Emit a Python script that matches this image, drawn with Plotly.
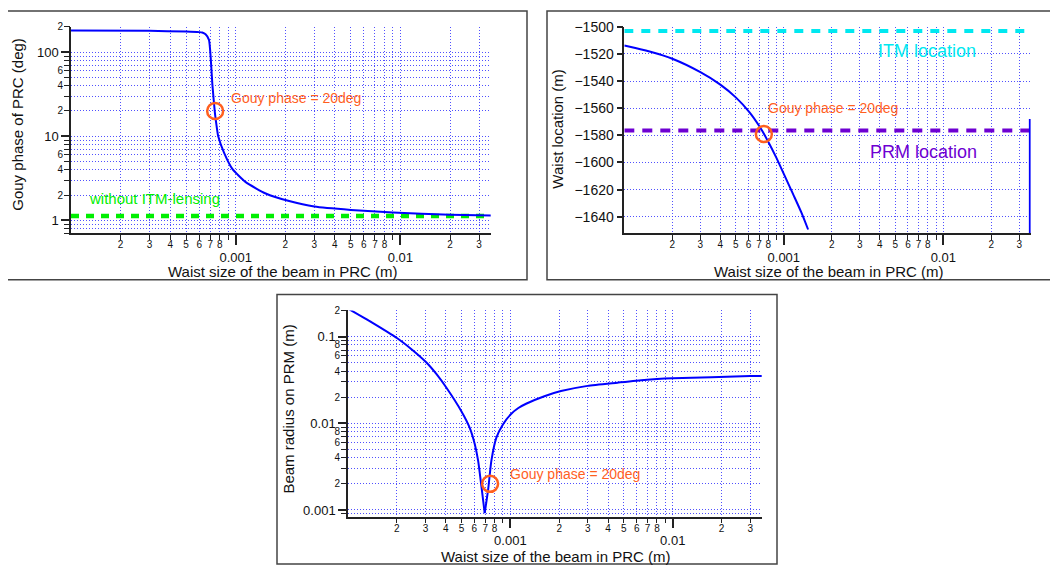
import plotly.graph_objects as go
import math

# ---------------- data ----------------
# Panel 1: Gouy phase of PRC vs waist size
waist_gouy = [1.0e-4, 3.0e-4, 5.0e-4, 6.0e-4, 6.26e-4, 6.56e-4, 6.88e-4, 7.05e-4, 7.21e-4,
              7.48e-4, 7.66e-4, 7.83e-4, 8.49e-4, 9.54e-4, 1.15e-3, 1.52e-3, 2.11e-3,
              3.0e-3, 5.0e-3, 9.0e-3, 2.0e-2, 3.55e-2]
gouy_phase = [181, 179, 176, 173, 171, 163, 140, 86, 42,
              18.7, 13.1, 10.0, 6.4, 4.1, 2.85, 2.09, 1.70,
              1.46, 1.33, 1.24, 1.17, 1.14]
gouy_no_lensing = 1.125

# Panel 2: waist location vs waist size
waist_loc_x = [1.0e-4, 1.44e-4, 2.0e-4, 3.0e-4, 4.0e-4, 5.0e-4, 6.1e-4, 7.05e-4, 7.94e-4,
               8.96e-4, 1.01e-3, 1.14e-3, 1.29e-3, 1.42e-3]
waist_loc = [-1513.8, -1518.2, -1523.5, -1533.4, -1542.6, -1552.0, -1563.0, -1573.5, -1584.1,
             -1596.2, -1609.5, -1623.0, -1637.0, -1649.4]
waist_loc_edge_x = [0.0349, 0.0349]
waist_loc_edge_y = [-1568.0, -1652.3]
itm_location = -1503.1
prm_location = -1576.5

# Panel 3: beam radius on PRM vs waist size
waist_r = [1.0e-4, 1.40e-4, 2.01e-4, 2.47e-4, 3.02e-4, 3.52e-4, 4.01e-4, 5.0e-4, 5.62e-4,
           6.04e-4, 6.33e-4, 6.64e-4, 6.95e-4, 7.29e-4, 7.64e-4, 8.2e-4, 9.0e-4, 1.01e-3,
           1.12e-3, 1.25e-3, 1.62e-3, 2.05e-3, 2.99e-3, 4.57e-3, 6.67e-3, 1.0e-2, 3.0e-2,
           3.55e-2]
beam_radius = [0.21, 0.146, 0.0957, 0.0711, 0.0509, 0.0366, 0.0262, 0.0137, 0.00887,
               0.00574, 0.0037, 0.00184, 0.00092, 0.00169, 0.0037, 0.00682, 0.0097, 0.0128,
               0.0150, 0.0168, 0.0205, 0.0235, 0.0270, 0.0294, 0.0316, 0.0330, 0.0350,
               0.0352]

# Gouy = 20 deg operating point
gouy_waist = 0.00075
gouy_point_phase = 20
gouy_point_loc = -1579
gouy_point_radius = 0.002

# Tick labels
x_decades = [1e-3, 1e-2]
x_decade_text = ["0.001", "0.01"]
x_minor = [k * d for d in (1e-4, 1e-3) for k in range(2, 10)] + [2e-2, 3e-2]
x_minor_lab_vals = [k * d for d in (1e-4, 1e-3) for k in range(2, 9)] + [2e-2, 3e-2]
x_minor_lab_text = [str(k) for d in (1e-4, 1e-3) for k in range(2, 9)] + ["2", "3"]

y1_decades = [1, 10, 100]
y1_decade_text = ["1", "10", "100"]
y1_minor = [0.7, 0.8, 0.9] + [k * d for d in (1, 10) for k in range(2, 10)] + [200]
y1_minor_lab_vals = [2, 4, 6, 20, 40, 60, 200]
y1_minor_lab_text = ["2", "4", "6", "2", "4", "6", "2"]

y2_ticks = [-1500, -1520, -1540, -1560, -1580, -1600, -1620, -1640]

y3_decades = [0.001, 0.01, 0.1]
y3_decade_text = ["0.001", "0.01", "0.1"]
y3_minor = [0.0009] + [k * d for d in (0.001, 0.01) for k in range(2, 10)] + [0.2]
y3_minor_lab_vals = [0.002, 0.004, 0.006, 0.008, 0.02, 0.04, 0.06, 0.08, 0.2]
y3_minor_lab_text = ["2", "4", "6", "8", "2", "4", "6", "8", "2"]

# ---------------- styling ----------------
OFF = 8                      # page body margin
W, H = 1050, 559
FONT = "Liberation Sans, Arial, sans-serif"
BLUE = "#0000ff"
GRID = "rgba(50,50,255,0.85)"
GDASH = "1px,2px"
AX = "#222222"
ORANGE = "#ff5f1f"
GREEN = "#00ee00"
CYAN = "#00e8f0"
PURPLE = "#6e00d2"

def px(x):
    return (x - OFF) / W

def py(y):
    return 1 - (y - OFF) / H

X_RANGE = [-4.0, -1.452]

P1 = dict(x=(71, 490.7), y=(19, 229))
P2 = dict(x=(624.3, 1030.7), y=(19, 229))
P3 = dict(x=(348, 761.7), y=(307.3, 516.7))

def xdom(p):
    return [px(p["x"][0]), px(p["x"][1])]

def ydom(p):
    return [py(p["y"][1]), py(p["y"][0])]

def main_logx(p, anchor):
    return dict(type="log", range=X_RANGE, domain=xdom(p), anchor=anchor,
                tickvals=x_decades, ticktext=x_decade_text, ticks="outside",
                ticklen=10, tickwidth=1.5, tickcolor=AX,
                tickfont=dict(size=13, color="#111", family=FONT),
                ticklabelstandoff=1,
                showline=True, linecolor=AX, linewidth=1.5,
                showgrid=True, gridcolor=GRID, griddash=GDASH, gridwidth=1,
                zeroline=False,
                minor=dict(tickvals=x_minor, ticks="outside", ticklen=5, tickwidth=1,
                           tickcolor=AX, showgrid=True, gridcolor=GRID, griddash=GDASH,
                           gridwidth=1))

def overlay_logx(over, anchor):
    return dict(type="log", range=X_RANGE, overlaying=over, anchor=anchor, side="bottom",
                tickvals=x_minor_lab_vals, ticktext=x_minor_lab_text, ticks="outside",
                ticklen=5, tickwidth=1, tickcolor=AX, ticklabelstandoff=-3,
                tickfont=dict(size=10, color="#111", family=FONT),
                showline=False, showgrid=False, zeroline=False)

def main_logy(p, anchor, rng, vals, text, minor):
    return dict(type="log", range=rng, domain=ydom(p), anchor=anchor,
                tickvals=vals, ticktext=text, ticks="outside",
                ticklen=8, tickwidth=1.5, tickcolor=AX,
                tickfont=dict(size=13, color="#111", family=FONT),
                showline=True, linecolor=AX, linewidth=1.5,
                showgrid=True, gridcolor=GRID, griddash=GDASH, gridwidth=1,
                zeroline=False,
                minor=dict(tickvals=minor, ticks="outside", ticklen=5, tickwidth=1,
                           tickcolor=AX, showgrid=True, gridcolor=GRID, griddash=GDASH,
                           gridwidth=1))

def overlay_logy(over, anchor, rng, vals, text):
    return dict(type="log", range=rng, overlaying=over, anchor=anchor, side="left",
                tickvals=vals, ticktext=text, ticks="outside",
                ticklen=5, tickwidth=1, tickcolor=AX,
                tickfont=dict(size=10, color="#111", family=FONT),
                showline=False, showgrid=False, zeroline=False)

Y1_RANGE = [math.log10(0.7), math.log10(200)]
Y3_RANGE = [math.log10(0.00084), math.log10(0.2)]
Y2_RANGE = [-1652.3, -1500]

fig = go.Figure()

def circle(xa, ya, x, y):
    fig.add_trace(go.Scatter(x=[x], y=[y], mode="markers",
                             marker=dict(symbol="circle-open", size=16, color=ORANGE,
                                         line=dict(width=2.5, color=ORANGE)),
                             xaxis=xa, yaxis=ya))

# ---- panel 1 ----
fig.add_trace(go.Scatter(x=[waist_gouy[0], waist_gouy[-1]], y=[gouy_no_lensing] * 2,
                         mode="lines", line=dict(color=GREEN, width=4.5, dash="8px,7px"),
                         xaxis="x", yaxis="y", hoverinfo="skip"))
fig.add_trace(go.Scatter(x=waist_gouy, y=gouy_phase, mode="lines",
                         line=dict(color=BLUE, width=2, shape="spline", smoothing=0.5),
                         xaxis="x", yaxis="y"))
circle("x", "y", gouy_waist, gouy_point_phase)

# ---- panel 2 ----
fig.add_trace(go.Scatter(x=[waist_loc_x[0], waist_loc_edge_x[0]], y=[itm_location] * 2,
                         mode="lines", line=dict(color=CYAN, width=4, dash="9px,8px"),
                         xaxis="x2", yaxis="y2", hoverinfo="skip"))
fig.add_trace(go.Scatter(x=[waist_loc_x[0], waist_loc_edge_x[0]], y=[prm_location] * 2,
                         mode="lines", line=dict(color=PURPLE, width=4, dash="10px,8px"),
                         xaxis="x2", yaxis="y2", hoverinfo="skip"))
fig.add_trace(go.Scatter(x=waist_loc_x, y=waist_loc, mode="lines",
                         line=dict(color=BLUE, width=2, shape="spline", smoothing=0.7),
                         xaxis="x2", yaxis="y2"))
fig.add_trace(go.Scatter(x=waist_loc_edge_x, y=waist_loc_edge_y, mode="lines",
                         line=dict(color=BLUE, width=2), xaxis="x2", yaxis="y2"))
circle("x2", "y2", gouy_waist, gouy_point_loc)

# ---- panel 3 (two branches around the minimum, each smoothed) ----
i_min = beam_radius.index(min(beam_radius))
for sl in (slice(0, i_min + 1), slice(i_min, None)):
    fig.add_trace(go.Scatter(x=waist_r[sl], y=beam_radius[sl], mode="lines",
                             line=dict(color=BLUE, width=2, shape="spline", smoothing=0.5),
                             xaxis="x3", yaxis="y3"))
circle("x3", "y3", gouy_waist, gouy_point_radius)

# empty traces to activate overlay axes
for xa, ya in [("x4", "y"), ("x", "y4"), ("x5", "y2"), ("x6", "y3"), ("x3", "y6")]:
    fig.add_trace(go.Scatter(x=[], y=[], xaxis=xa, yaxis=ya, hoverinfo="skip"))

fig.update_layout(
    width=W, height=H, margin=dict(l=0, r=0, t=0, b=0),
    paper_bgcolor="white", plot_bgcolor="white", showlegend=False,
    font=dict(family=FONT, color="#111"),
    xaxis=main_logx(P1, "y"),
    yaxis=main_logy(P1, "x", Y1_RANGE, y1_decades, y1_decade_text, y1_minor),
    xaxis4=overlay_logx("x", "y"),
    yaxis4=overlay_logy("y", "x", Y1_RANGE, y1_minor_lab_vals, y1_minor_lab_text),
    xaxis2=main_logx(P2, "y2"),
    yaxis2=dict(type="linear", range=Y2_RANGE, domain=ydom(P2), anchor="x2",
                tickvals=y2_ticks, ticks="outside", ticklen=6, tickwidth=1.5, tickcolor=AX,
                tickfont=dict(size=14, color="#111", family=FONT),
                showline=True, linecolor=AX, linewidth=1.5,
                showgrid=True, gridcolor=GRID, griddash=GDASH, gridwidth=1, zeroline=False),
    xaxis5=overlay_logx("x2", "y2"),
    xaxis3=main_logx(P3, "y3"),
    yaxis3=main_logy(P3, "x3", Y3_RANGE, y3_decades, y3_decade_text, y3_minor),
    xaxis6=overlay_logx("x3", "y3"),
    yaxis6=overlay_logy("y3", "x3", Y3_RANGE, y3_minor_lab_vals, y3_minor_lab_text),
)

# frames around the three panels
frames = [(7, 3, 527, 276), (547, 3, 1056, 276), (277, 291, 777, 565)]
for (x0, y0, x1, y1) in frames:
    fig.add_shape(type="rect", xref="paper", yref="paper",
                  x0=px(x0), x1=px(x1), y0=py(y1), y1=py(y0),
                  line=dict(color="#444", width=1.5))

def ann(text, x, y, size=15, color="#111", xanchor="center", angle=0):
    fig.add_annotation(text=text, xref="paper", yref="paper", x=px(x), y=py(y),
                       xanchor=xanchor, yanchor="middle", showarrow=False, textangle=angle,
                       font=dict(size=size, color=color, family=FONT))

xtitle = "Waist size of the beam in PRC (m)"
ann(xtitle, 283, 268)
ann(xtitle, 829, 268)
ann(xtitle, 556, 557)
ann("Gouy phase of PRC (deg)", 17.5, 118, angle=-90)
ann("Waist location (m)", 557.5, 123, angle=-90)
ann("Beam radius on PRM (m)", 288.5, 407.5, angle=-90)

ann("Gouy phase = 20deg", 229, 91, size=14, color=ORANGE, xanchor="left")
ann("Gouy phase = 20deg", 765.5, 101, size=14, color=ORANGE, xanchor="left")
ann("Gouy phase = 20deg", 508, 473.5, size=14, color=ORANGE, xanchor="left")
ann("without ITM-lensing", 87, 193, size=15, color=GREEN, xanchor="left")
ann("ITM location", 927, 43.5, size=18, color=CYAN)
ann("PRM location", 923, 146, size=18, color=PURPLE)

fig.write_html("out.html")
